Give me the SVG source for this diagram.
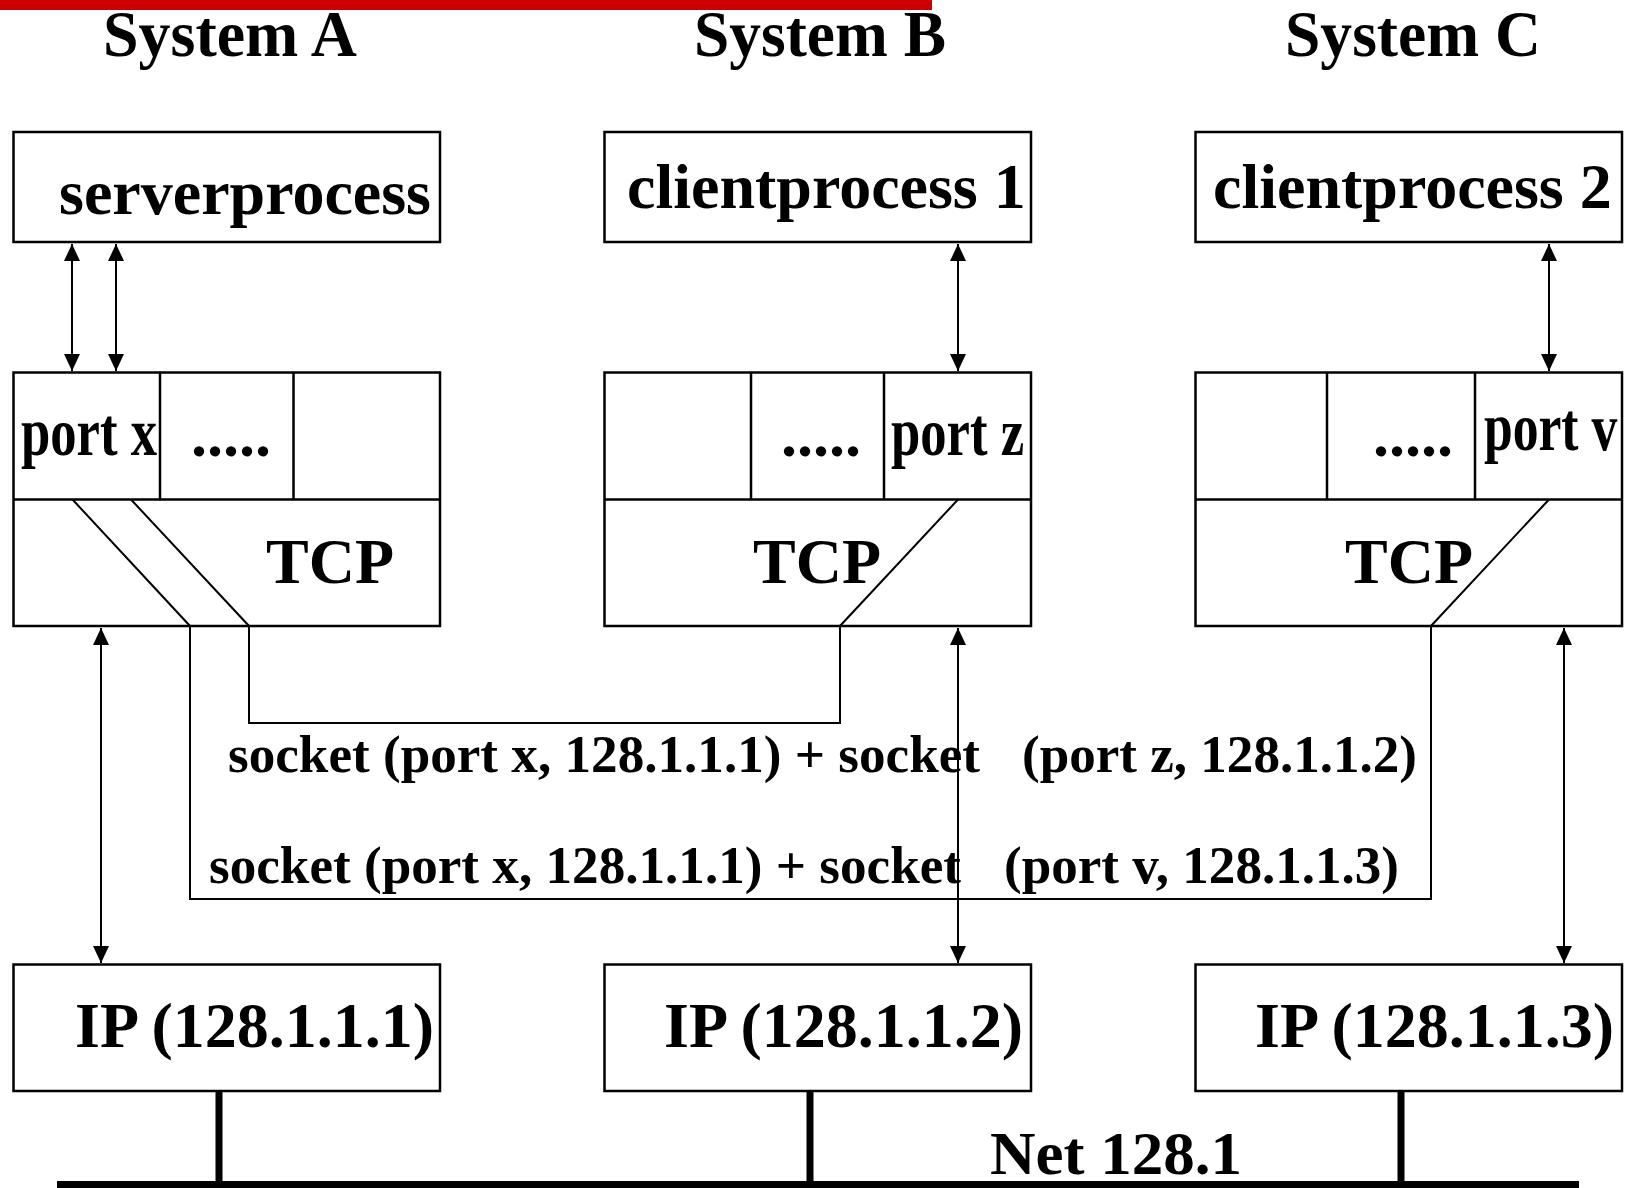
<svg xmlns="http://www.w3.org/2000/svg" width="1626" height="1188" viewBox="0 0 1626 1188">
<style>
.box{fill:#fff;stroke:#000;stroke-width:2.5}
.div{stroke:#000;stroke-width:2.5;fill:none}
.ln{stroke:#000;stroke-width:2;fill:none}
.arr{stroke:#000;stroke-width:2;fill:none;marker-start:url(#ah);marker-end:url(#ah)}
.bus{stroke:#000;stroke-width:7;fill:none}
text{font-family:"Liberation Serif","Times New Roman",serif;font-weight:bold;fill:#000}
.t64{font-size:64px}
.t62{font-size:62px}
.title{font-size:65px}
.port{font-size:67px}
.sock{font-size:52px}
</style>
<defs>
<marker id="ah" markerUnits="userSpaceOnUse" markerWidth="18" markerHeight="16" refX="17" refY="8" orient="auto-start-reverse" viewBox="0 0 18 16">
<path d="M0,0 L17,8 L0,16 z" fill="#000"/>
</marker>
</defs>
<rect x="0" y="0" width="932" height="10" fill="#CC0000"/>
<g id="titles">
<text class="title" x="103" y="56" textLength="254" lengthAdjust="spacingAndGlyphs">System A</text>
<text class="title" x="694" y="56" textLength="252" lengthAdjust="spacingAndGlyphs">System B</text>
<text class="title" x="1285" y="56" textLength="256" lengthAdjust="spacingAndGlyphs">System C</text>
</g>
<g id="serverprocess">
<rect class="box" x="13.5" y="132" width="426.5" height="110"/>
<text class="t64" x="59" y="214">serverprocess</text>
</g>
<g id="clientprocess1">
<rect class="box" x="604.5" y="132" width="426.5" height="110"/>
<text class="t64" x="627" y="208">clientprocess 1</text>
</g>
<g id="clientprocess2">
<rect class="box" x="1195.5" y="132" width="426.5" height="110"/>
<text class="t64" x="1213" y="208">clientprocess 2</text>
</g>
<g id="tcpA">
<rect class="box" x="13.5" y="372.5" width="426.5" height="253.5"/>
<path class="div" d="M13.5,499.5 H440 M160,372.5 V499.5 M293.5,372.5 V499.5"/>
<text class="port" transform="translate(21,455) scale(0.786,1)">port x</text>
<text class="t64" x="191" y="456">.....</text>
<text class="t64" x="266" y="583">TCP</text>
</g>
<g id="tcpB">
<rect class="box" x="604.5" y="372.5" width="426.5" height="253.5"/>
<path class="div" d="M604.5,499.5 H1031 M751,372.5 V499.5 M884,372.5 V499.5"/>
<text class="t64" x="781" y="456">.....</text>
<text class="port" transform="translate(891,455) scale(0.786,1)">port z</text>
<text class="t64" x="753" y="583">TCP</text>
</g>
<g id="tcpC">
<rect class="box" x="1195.5" y="372.5" width="426.5" height="253.5"/>
<path class="div" d="M1195.5,499.5 H1622 M1327,372.5 V499.5 M1475,372.5 V499.5"/>
<text class="t64" x="1373" y="456">.....</text>
<text class="port" transform="translate(1484,450) scale(0.77,1)">port v</text>
<text class="t64" x="1345" y="583">TCP</text>
</g>
<g id="ipA">
<rect class="box" x="13.5" y="964.5" width="426.5" height="126.5"/>
<text class="t64" x="75" y="1047">IP (128.1.1.1)</text>
</g>
<g id="ipB">
<rect class="box" x="604.5" y="964.5" width="426.5" height="126.5"/>
<text class="t64" x="664" y="1047">IP (128.1.1.2)</text>
</g>
<g id="ipC">
<rect class="box" x="1195.5" y="964.5" width="426.5" height="126.5"/>
<text class="t64" x="1255" y="1047">IP (128.1.1.3)</text>
</g>
<g id="connectors">
<path class="ln" d="M72.5,499.5 L190,626 V899 H1431 V626 L1549,499.5"/>
<path class="ln" d="M131,499.5 L249,626 V723 H840 V626 L958,499.5"/>
<line class="arr" x1="72" y1="244" x2="72" y2="371"/>
<line class="arr" x1="116" y1="244" x2="116" y2="371"/>
<line class="arr" x1="958" y1="244" x2="958" y2="371"/>
<line class="arr" x1="1549" y1="244" x2="1549" y2="371"/>
<line class="arr" x1="101" y1="628" x2="101" y2="963"/>
<line class="arr" x1="958" y1="628" x2="958" y2="963"/>
<line class="arr" x1="1564" y1="628" x2="1564" y2="963"/>
<path class="bus" d="M219,1091 V1184 M810,1091 V1184 M1401,1091 V1184"/>
<rect x="57" y="1181" width="1522" height="7" fill="#000"/>
</g>
<g id="labels">
<text class="sock" x="228" y="772" textLength="752" lengthAdjust="spacingAndGlyphs">socket (port x, 128.1.1.1) + socket</text>
<text class="sock" x="1022" y="772" textLength="395" lengthAdjust="spacingAndGlyphs">(port z, 128.1.1.2)</text>
<text class="sock" x="209" y="883" textLength="752" lengthAdjust="spacingAndGlyphs">socket (port x, 128.1.1.1) + socket</text>
<text class="sock" x="1004" y="883" textLength="395" lengthAdjust="spacingAndGlyphs">(port v, 128.1.1.3)</text>
<text class="t62" x="990" y="1174" textLength="252" lengthAdjust="spacingAndGlyphs">Net 128.1</text>
</g>
</svg>
